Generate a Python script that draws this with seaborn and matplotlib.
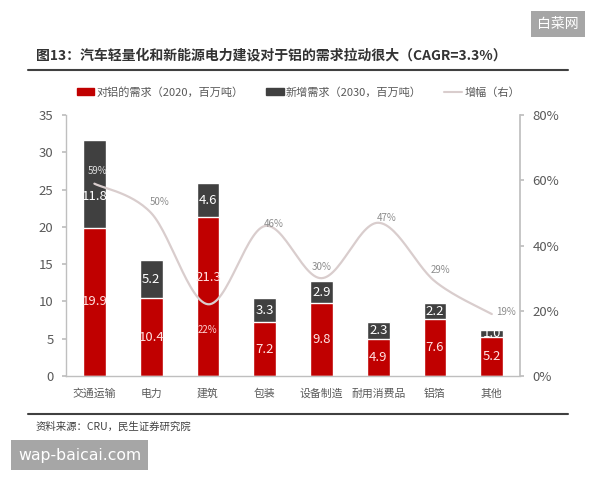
import numpy as np
import pandas as pd
import matplotlib.pyplot as plt
import seaborn as sns
from matplotlib.patches import Patch
from matplotlib.lines import Line2D

# data
categories = ['交通运输', '电力', '建筑', '包装', '设备制造', '耐用消费品', '铝箔', '其他']
demand_2020 = [19.9, 10.4, 21.3, 7.2, 9.8, 4.9, 7.6, 5.2]
added_2030 = [11.8, 5.2, 4.6, 3.3, 2.9, 2.3, 2.2, 1.0]
growth = [59, 50, 22, 46, 30, 47, 29, 19]  # %, right axis

RED = '#C00000'
DARK = '#404040'
LINE = '#D9CDCD'
GREY_TXT = '#595959'

sns.set_theme(style='white')
plt.rcParams['font.family'] = ['Noto Sans CJK SC', 'DejaVu Sans']

df = pd.DataFrame({'cat': categories, 'd2020': demand_2020, 'add': added_2030})
df['total'] = df['d2020'] + df['add']

fig = plt.figure(figsize=(6, 4.8), dpi=100)
ax = fig.add_axes([0.11, 0.2167, 0.757, 0.5433])

# stacked bars: total in dark grey, 2020 demand in red over it
sns.barplot(data=df, x='cat', y='total', color=DARK, width=0.4, saturation=1, ax=ax)
sns.barplot(data=df, x='cat', y='d2020', color=RED, width=0.4, saturation=1, ax=ax)

ax.set_ylim(0, 35)
ax.set_yticks(range(0, 36, 5))
ax.set_xlim(-0.5, len(categories) - 0.5)
ax.set_xlabel('')
ax.set_ylabel('')
ax.tick_params(axis='y', labelsize=9.5, colors=GREY_TXT, length=3, color='#BFBFBF', pad=6)
ax.tick_params(axis='x', labelsize=7.8, colors=GREY_TXT, length=0, pad=9)
for s in ['top', 'right']:
    ax.spines[s].set_visible(False)
for s in ['left', 'bottom']:
    ax.spines[s].set_color('#BFBFBF')
    ax.spines[s].set_linewidth(1)
# small separators between categories
ax.set_xticks(np.arange(0.5, len(categories) - 1, 1), minor=True)
ax.tick_params(axis='x', which='minor', direction='in', length=3, color='#BFBFBF')

# bar value labels (a couple nudged to clear the growth line / its labels)
for i, (a, b) in enumerate(zip(demand_2020, added_2030)):
    ya = 13.2 if i == 2 else a / 2
    yb = a + b / 2 - (1.7 if i == 0 else 0)
    ax.text(i, ya, f'{a:.1f}', ha='center', va='center', color='#FFE0E0', fontsize=9.5, zorder=5)
    ax.text(i, yb, f'{b:.1f}', ha='center', va='center', color='white', fontsize=9.5, zorder=5)

# right axis with smoothed growth line
ax2 = ax.twinx()
ax2.set_position(ax.get_position())
ax2.set_ylim(0, 80)
ax2.set_yticks(range(0, 81, 20))
ax2.set_yticklabels([f'{v}%' for v in range(0, 81, 20)])
ax2.tick_params(axis='y', labelsize=9.5, colors=GREY_TXT, length=3, color='#BFBFBF', pad=6)
for s in ['top', 'left', 'bottom']:
    ax2.spines[s].set_visible(False)
ax2.spines['right'].set_color('#BFBFBF')
ax2.grid(False)

# Catmull-Rom smoothing through the data points (like Excel's smoothed line)
xs = np.arange(len(growth), dtype=float)
ys = np.array(growth, dtype=float)
px = np.concatenate([[xs[0]], xs, [xs[-1]]])
py = np.concatenate([[ys[0]], ys, [ys[-1]]])
cx, cy = [], []
t = np.linspace(0, 1, 30)
for k in range(1, len(px) - 2):
    p0, p1, p2, p3 = [np.array([px[j], py[j]]) for j in (k - 1, k, k + 1, k + 2)]
    seg = 0.5 * ((2 * p1)[:, None] + (-p0 + p2)[:, None] * t
                 + (2 * p0 - 5 * p1 + 4 * p2 - p3)[:, None] * t ** 2
                 + (-p0 + 3 * p1 - 3 * p2 + p3)[:, None] * t ** 3)
    cx.extend(seg[0]); cy.extend(seg[1])
ax2.plot(cx, cy, color=LINE, lw=1.6, zorder=3)

offsets = [(0.05, 3.8), (0.15, 3.5), (0, -8), (0.15, 0.5), (0, 3.5), (0.15, 1.5), (0.1, 3.5), (0.25, 0.5)]
label_cols = ['#E0E0E0', '#8C8C8C', '#FFD0D0', '#8C8C8C', '#8C8C8C', '#8C8C8C', '#8C8C8C', '#8C8C8C']
for i, (v, (dx, dy)) in enumerate(zip(growth, offsets)):
    ax2.text(i + dx, v + dy, f'{v}%', ha='center', va='center', fontsize=7,
             color=label_cols[i], zorder=4)

# legend
handles = [Patch(color=RED), Patch(color=DARK), Line2D([0], [0], color=LINE, lw=1.5)]
labels = ['对铝的需求（2020，百万吨）', '新增需求（2030，百万吨）', '增幅（右）']
fig.legend(handles, labels, loc='center', bbox_to_anchor=(0.497, 0.808), ncol=3, frameon=False,
           fontsize=8, handlelength=1.6, handleheight=0.6, handletextpad=0.2, columnspacing=2.0,
           labelcolor=GREY_TXT)

# title, rules and source
fig.text(0.06, 0.885, '图13：汽车轻量化和新能源电力建设对于铝的需求拉动很大（CAGR=3.3%）',
         fontsize=10, fontweight='bold', color='#333333', va='center')
fig.add_artist(Line2D([0.047, 0.947], [0.854, 0.854], color='#404040', lw=1.5))
fig.add_artist(Line2D([0.047, 0.947], [0.137, 0.137], color='#404040', lw=1.5))
fig.text(0.06, 0.11, '资料来源：CRU，民生证券研究院', fontsize=7.5, color='#404040', va='center')

# watermarks
fig.text(0.93, 0.95, '白菜网', fontsize=10, color='white', ha='center', va='center',
         bbox=dict(boxstyle='square,pad=0.45', fc='#A6A6A6', ec='none'))
fig.text(0.133, 0.052, 'wap-baicai.com', fontsize=11.3, color='white', ha='center', va='center',
         family=['DejaVu Sans'],
         bbox=dict(boxstyle='square,pad=0.45', fc='#A6A6A6', ec='none'))

fig.savefig('out.png', dpi=100, facecolor='white')
